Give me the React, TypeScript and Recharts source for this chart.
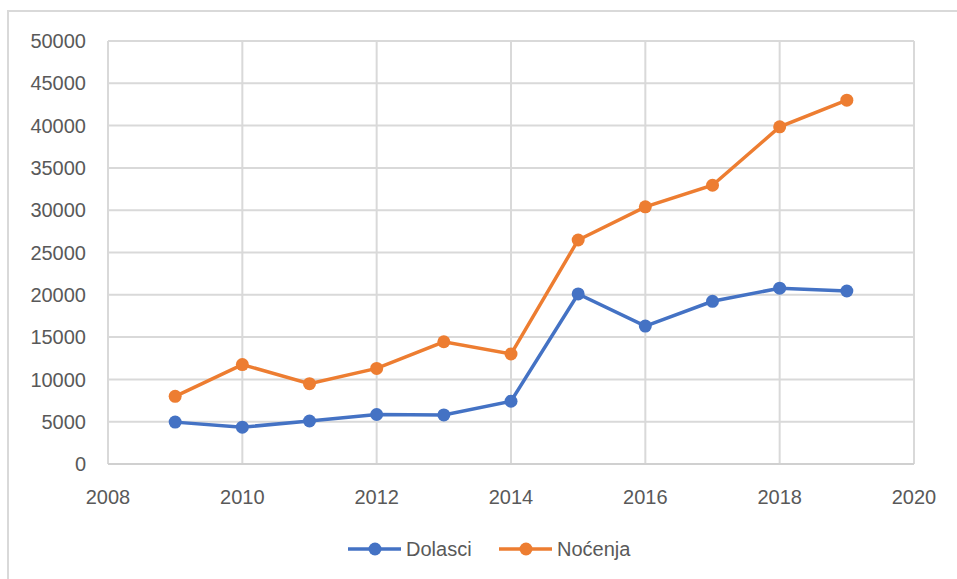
import React from 'react';
import { LineChart, Line, XAxis, YAxis, CartesianGrid, Legend } from 'recharts';

const years = [2009, 2010, 2011, 2012, 2013, 2014, 2015, 2016, 2017, 2018, 2019];
const dolasci = [4950, 4350, 5080, 5850, 5800, 7420, 20100, 16300, 19230, 20780, 20450];
const nocenja = [8000, 11750, 9500, 11300, 14450, 13000, 26480, 30400, 32950, 39850, 43000];
const xTicks = [2008, 2010, 2012, 2014, 2016, 2018, 2020];
const yTicks = [0, 5000, 10000, 15000, 20000, 25000, 30000, 35000, 40000, 45000, 50000];
const seriesNames = ['Dolasci', 'Noćenja'];
const colors = ['#4472C4', '#ED7D31'];

const data = years.map((y, i) => ({ year: y, Dolasci: dolasci[i], Nocenja: nocenja[i] }));

const FONT = '"Liberation Sans", Arial, sans-serif';

const LegendContent = () => (
  <div style={{ position: 'relative', width: 957, height: 62, fontFamily: FONT }}>
    {seriesNames.map((name, i) => {
      const left = i === 0 ? 348 : 499;
      return (
        <div key={name} style={{ position: 'absolute', left, top: 19, height: 26, display: 'flex', alignItems: 'center' }}>
          <svg width={53} height={16} style={{ display: 'block' }}>
            <line x1={0} y1={8} x2={53} y2={8} stroke={colors[i]} strokeWidth={3.5} />
            <circle cx={27} cy={8} r={6.5} fill={colors[i]} />
          </svg>
          <span style={{ marginLeft: 5, fontSize: 20, color: '#595959', lineHeight: '26px' }}>{name}</span>
        </div>
      );
    })}
  </div>
);

export default function App() {
  return (
    <div style={{ position: 'absolute', left: 0, top: 0, width: 957, height: 579, background: '#fff', fontFamily: FONT }}>
      <div style={{ position: 'absolute', left: 7, top: 10, right: 0, bottom: 0, borderLeft: '2px solid #d9d9d9', borderTop: '2px solid #d9d9d9' }} />
      <div style={{ position: 'absolute', left: 0, top: 0 }}>
        <LineChart width={957} height={579} data={data} margin={{ top: 41, right: 43, left: 8, bottom: 0 }}>
          <CartesianGrid stroke="#d9d9d9" strokeWidth={2} vertical={true} horizontal={true} />
          <XAxis
            dataKey="year"
            type="number"
            domain={[2008, 2020]}
            ticks={xTicks}
            interval={0}
            allowDataOverflow
            axisLine={{ stroke: '#d0d0d0', strokeWidth: 2 }}
            tickLine={false}
            tickMargin={20}
            height={53}
            tick={{ fill: '#595959', fontSize: 20, fontFamily: FONT }}
          />
          <YAxis
            type="number"
            domain={[0, 50000]}
            ticks={yTicks}
            interval={0}
            width={100}
            axisLine={false}
            tickLine={false}
            tickMargin={16}
            tick={{ fill: '#595959', fontSize: 20, fontFamily: FONT }}
          />
          <Legend
            verticalAlign="bottom"
            content={<LegendContent />}
            wrapperStyle={{ left: 0, width: 957, height: 62, bottom: 0 }}
          />
          <Line
            type="linear"
            dataKey="Dolasci"
            name={seriesNames[0]}
            stroke={colors[0]}
            strokeWidth={3.5}
            dot={{ r: 6.5, fill: colors[0], stroke: colors[0], strokeWidth: 0 }}
            activeDot={false}
            isAnimationActive={false}
          />
          <Line
            type="linear"
            dataKey="Nocenja"
            name={seriesNames[1]}
            stroke={colors[1]}
            strokeWidth={3.5}
            dot={{ r: 6.5, fill: colors[1], stroke: colors[1], strokeWidth: 0 }}
            activeDot={false}
            isAnimationActive={false}
          />
        </LineChart>
      </div>
    </div>
  );
}
